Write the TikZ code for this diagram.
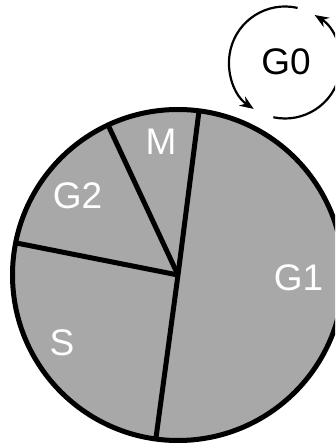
\documentclass[tikz,border=0pt]{standalone}
\usepackage{fontspec}
\setmainfont{Liberation Sans}
\usetikzlibrary{arrows.meta,calc}
\definecolor{piegray}{RGB}{168,168,168}
\tikzset{
  pieline/.style={line width=5pt, line join=round},
  lbl/.style={anchor=base, inner sep=0pt, font=\fontsize{37}{37}\selectfont},
  cyc/.style={line width=2.2pt, -{Stealth[length=14pt,width=11pt]}}
}
\begin{document}
\begin{tikzpicture}[x=1pt,y=1pt]
  \useasboundingbox (0,0) rectangle (335,444);
  \clip (0,0) rectangle (335,444);
  % pie
  \coordinate (c) at (178,169);
  \fill[piegray] (c) circle (165.5);
  \coordinate (pT) at ($(c)+(82.7:165.5)$);
  \coordinate (pTL) at ($(c)+(115:165.5)$);
  \coordinate (pL) at ($(c)+(168.8:165.5)$);
  \coordinate (pB) at ($(c)+(262.3:165.5)$);
  \draw[pieline] (c) -- (pT);
  \draw[pieline] (c) -- (pTL);
  \draw[pieline] (c) -- (pL);
  \draw[pieline] (c) -- (pB);
  \draw[pieline] (c) circle (165.5);
  \node[lbl, text=white] (M) at (161,289) {M};
  \node[lbl, text=white] (G2) at (77.5,235) {G2};
  \node[lbl, text=white] (G1) at (298.5,153) {G1};
  \node[lbl, text=white] (S) at (62,88) {S};
  % G0 cycle
  \coordinate (g) at (285,381.5);
  \node[lbl] (G0) at (286,369.5) {G0};
  \draw[cyc] ($(g)+(77:56)$) arc[start angle=77, end angle=236, radius=56];
  \draw[cyc] ($(g)+(258:56)$) arc[start angle=258, end angle=418, radius=56];
\end{tikzpicture}
\end{document}
